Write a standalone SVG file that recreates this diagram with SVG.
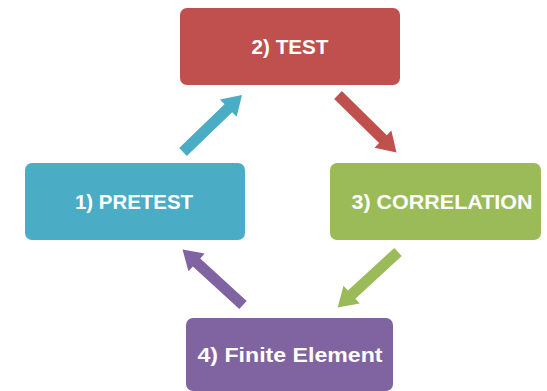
<svg xmlns="http://www.w3.org/2000/svg" xmlns:xlink="http://www.w3.org/1999/xlink" width="547" height="391" viewBox="0 0 547 391">
<style>
.box{stroke:none}
.lbl{font-family:"Liberation Sans",Arial,sans-serif;font-weight:bold;font-size:21px;fill:#ffffff;text-anchor:middle}
</style>
<defs>
<path id="arrow" d="M0,-5.5 L63,-5.5 L63,-12 L82,0 L63,12 L63,5.5 L0,5.5 Z"/>
</defs>
<rect width="547" height="391" fill="#ffffff"/>
<g id="connectors">
<use xlink:href="#arrow" fill="#4bacc6" transform="translate(183,152) rotate(-44)"/>
<use xlink:href="#arrow" fill="#c0504d" transform="translate(338,95) rotate(44.5)"/>
<use xlink:href="#arrow" fill="#9bbb59" transform="translate(398,252) rotate(137.4)"/>
<use xlink:href="#arrow" fill="#8064a2" transform="translate(243,305) rotate(-137.5)"/>
</g>
<g id="node-test">
<rect class="box" x="180" y="8" width="220" height="77" rx="7" fill="#c0504d"/>
<text class="lbl" x="290" y="54" textLength="77" lengthAdjust="spacingAndGlyphs">2) TEST</text>
</g>
<g id="node-pretest">
<rect class="box" x="25" y="163" width="220" height="77" rx="7" fill="#4bacc6"/>
<text class="lbl" x="134" y="209" textLength="118" lengthAdjust="spacingAndGlyphs">1) PRETEST</text>
</g>
<g id="node-correlation">
<rect class="box" x="330" y="163" width="211" height="77" rx="7" fill="#9bbb59"/>
<text class="lbl" x="442" y="209" textLength="181" lengthAdjust="spacingAndGlyphs">3) CORRELATION</text>
</g>
<g id="node-finite">
<rect class="box" x="186" y="318" width="207" height="73" rx="7" fill="#8064a2"/>
<text class="lbl" x="290" y="362" textLength="185" lengthAdjust="spacingAndGlyphs">4) Finite Element</text>
</g>
</svg>
